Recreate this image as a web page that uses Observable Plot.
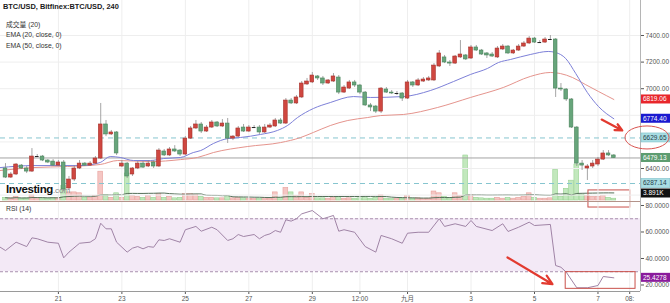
<!DOCTYPE html>
<html><head><meta charset="utf-8">
<script src="https://cdn.jsdelivr.net/npm/d3@7"></script>
<script src="https://cdn.jsdelivr.net/npm/@observablehq/plot@0.6"></script>
<style>
html,body{margin:0;padding:0;background:#fff;}
#wrap{position:relative;width:670px;height:303px;overflow:hidden;background:#fff;}
#wrap svg{position:absolute;left:0;}
</style></head><body><div id="wrap"></div>
<script>
// ---------------- DATA ----------------
const firstCandle = Date.UTC(2018, 7, 19, 8); // first 4h candle shown
const candleHours = 4;

const opens = [6400,6332,6355,6422,6400,6377,6490,6490,6460,6452,
6422,6445,6250,6317,6400,6437,6422,6437,6475,6731,
6656,6671,6415,6437,6355,6400,6437,6415,6445,6415,
6528,6498,6543,6535,6505,6625,6701,6731,6678,6708,
6746,6716,6738,6625,6640,6708,6678,6708,6708,6671,
6708,6716,6761,6738,6911,6889,6934,7032,7047,7092,
7077,7039,7054,7084,6971,7001,7047,7024,6971,6874,
6866,6828,6994,6971,6964,6964,6926,7047,7024,7054,
7062,7062,7167,7235,7197,7189,7235,7250,7227,7310,
7287,7265,7257,7235,7295,7317,7265,7287,7317,7340,
7377,7347,7347,7370,7370,7001,6994,6919,6708,6437,
6400,6415,6430,6467,6513,6498];
const highs = [6437,6370,6437,6430,6415,6550,6505,6498,6467,6467,
6460,6460,6340,6422,6460,6445,6452,6490,6889,6761,
6686,6678,6460,6445,6407,6452,6452,6460,6460,6550,
6543,6558,6572,6543,6640,6716,6761,6746,6723,6761,
6753,6768,6776,6648,6716,6731,6723,6723,6723,6731,
6738,6776,6776,6926,6926,6949,7054,7077,7122,7099,
7092,7069,7114,7099,7024,7062,7062,7032,6979,6889,
6874,7009,7009,6986,6979,6971,7062,7054,7077,7084,
7092,7189,7287,7250,7212,7250,7362,7257,7325,7325,
7295,7272,7272,7317,7332,7325,7295,7332,7355,7392,
7385,7362,7385,7400,7377,7039,7001,6926,6716,6460,
6430,6460,6483,6535,6535,6505];
const lows = [6325,6325,6347,6392,6362,6370,6483,6452,6437,6415,
6415,6227,6235,6302,6392,6415,6415,6430,6467,6640,
6648,6498,6407,6325,6340,6392,6400,6407,6400,6407,
6490,6490,6520,6490,6498,6618,6693,6663,6671,6701,
6708,6708,6588,6610,6633,6671,6671,6701,6656,6663,
6701,6708,6731,6731,6881,6881,6926,7024,7039,7062,
7024,7032,7047,6956,6964,6994,7009,6956,6866,6828,
6813,6813,6964,6956,6949,6904,6919,7009,7016,7047,
7054,7054,7159,7189,7167,7182,7227,7212,7220,7280,
7250,7227,7235,7227,7287,7257,7257,7280,7310,7332,
7340,7340,7340,7362,6934,6979,6904,6701,6415,6385,
6310,6400,6415,6460,6490,6475];
const closes = [6332,6355,6430,6400,6377,6490,6490,6460,6445,6422,
6445,6242,6317,6400,6437,6422,6437,6475,6731,6656,
6671,6513,6437,6340,6400,6437,6407,6437,6415,6535,
6498,6543,6528,6505,6625,6701,6731,6678,6708,6746,
6716,6738,6625,6640,6701,6678,6708,6708,6671,6708,
6723,6761,6738,6911,6889,6934,7039,7054,7099,7077,
7039,7062,7092,6971,7009,7047,7024,6971,6874,6859,
6828,7001,6971,6964,6964,6926,7047,7024,7062,7069,
7077,7174,7265,7197,7189,7242,7257,7220,7310,7287,
7257,7250,7242,7302,7317,7265,7287,7317,7340,7377,
7347,7347,7370,7370,7001,6994,6919,6708,6437,6422,
6415,6437,6467,6513,6498,6479];
const volumesK = [1.5,1.2,2.0,1.0,1.2,2.8,1.5,1.3,1.0,1.5,
1.2,8,4.5,4.5,4.0,1.5,1.5,2.5,16,3,
1.5,4,1.5,15,2.5,2.0,1.5,2.5,1.5,3.5,
1.5,2.0,1.2,1.5,3.5,3.5,3.0,2.0,1.5,1.5,
1.2,1.2,2.5,1.2,1.5,1.2,1.0,0.8,1.0,1.2,
1.0,4.5,1.5,7,4.5,2.5,4.5,1.5,3.5,1.2,
1.2,1.0,2.0,2.0,1.0,1.2,1.0,1.2,2.0,1.0,
1.5,2.8,1.0,0.8,0.8,1.0,2.4,1.0,1.2,0.8,
1.0,5,4,2,1.2,4,2.5,25,3,1.5,
1.2,1,1,1.5,1,1.5,1,1.5,2,4,
1.5,1,1,1.2,17,2,6.5,11,20,3,
2.5,2,2,2.5,1.5,1];

// EMA lines (candle index, price)
const ema20Idx = [-1,5.3,10.4,14.2,17.9,19.8,21.7,24.2,27.4,29.9,33.1,35.5,36.9,39.3,42,44.4,48.2,51.4,53.3,55.2,58.2,61.4,65.8,69,75.2,80.3,84.7,87.9,91.1,93.2,95.5,99.2,102.6,104,105.9,107.8,110,112.1,115];
const ema20Vals = [6407,6422,6422,6422,6445,6490,6483,6460,6460,6475,6483,6520,6535,6588,6625,6633,6656,6686,6723,6783,6851,6896,6941,6934,6941,6986,7054,7107,7152,7197,7220,7257,7280,7272,7227,7114,6971,6866,6774];
const ema50Idx = [-1,5.3,11.7,17.9,21.2,27.4,33.1,36.3,39.3,45.7,52,55.8,58.2,61.4,64.7,68.4,70.9,75.2,81.7,87.9,94.1,99.2,103,104.9,107.2,109.6,112.1,115];
const ema50Vals = [6385,6407,6415,6430,6460,6452,6467,6483,6520,6565,6595,6633,6671,6723,6761,6783,6798,6806,6859,6934,7009,7092,7122,7114,7084,7032,6979,6919];

// RSI (14) (candle index, value)
const rsiIdx = [-1,0,2,4,5,6,8,10,11,12,14,16,17,18,19,20,21,23,24,25,26,27,28,29,30,31,33,34,36,37,39,40,42,43,44,45,47,48,49,50,51,52,53,54,55,56,58,60,61,62,63,64,66,68,70,71,73,75,76,78,80,82,83,85,87,88,89,92,94,95,97,99,100,103,104,105,106,108,110,112,113,115];
const rsiVals = [48.5,46,52.3,49,55.6,54.9,52.3,51.5,40.5,44.8,51.5,52.3,54.9,66.6,62.4,62.4,52.3,44.8,47.8,49,47.3,49,48.5,54.1,53.6,54.9,52.3,61.7,64.2,60.6,63.6,61.7,53.6,54.9,58.1,56.6,58.1,54.9,57.4,58.6,61.1,59.8,69.2,68.2,70,73.7,76.2,70,71.2,72.5,60.6,61.7,59.8,49,44.8,57.4,54.9,51.5,59.1,59.8,59.8,70,64.2,66.2,64.2,68.7,64.2,61.1,66.2,60.4,63.6,67.4,64.9,65.7,34.7,33.4,29.7,17.9,17.9,19.6,26.4,25.4];

// axes / levels
const tickDates = ["2018-08-21T00:00Z","2018-08-23T00:00Z","2018-08-25T00:00Z","2018-08-27T00:00Z","2018-08-29T00:00Z","2018-08-30T12:00Z","2018-09-01T00:00Z","2018-09-03T00:00Z","2018-09-05T00:00Z","2018-09-07T00:00Z","2018-09-08T00:00Z"];
const tickLabels = ["21","23","25","27","29","12:00","九月","3","5","7","08:"];
const priceTicks = [6200,6400,6600,6800,7000,7200,7400];
const rsiTicks = [20,40,60,80];
const rsiLevels = [30,70];
const dashedLevels = [6629.65,6287.14];
const lastPrice = 6479.13;
const volMaLastK = 3.891;
const boxTexts = ["6819.06","6774.40","6629.65","6479.13","6287.14","3.891K","25.4278"];

// hand annotations (data coordinates: candle index, value)
const priceArrows = [{i1:112.7,p1:6768,i2:116.6,p2:6686}];
const rsiArrows = [{i1:94.9,v1:40.8,i2:103.4,v2:20.6}];
const volBoxes = [{i1:110.2,i2:118.1,v1:-3.9,v2:5.6}];
const rsiBoxes = [{i1:105.9,i2:119.1,v1:17.1,v2:29.7}];

// ---------------- CHART ----------------
const FONT = '"Liberation Sans", Arial, "Noto Sans CJK SC", sans-serif';
const HOUR = 3600e3;
const tOf = i => new Date(firstCandle + i * candleHours * HOUR);
const xDomain = [tOf(-0.945), tOf(120.04)];
const priceDomain = [6151.9, 7663.2];
const volDomain = [0, 111.1];
const rsiDomain = [15.09, 83.02];
const PRICE_H = 201, VOL_BASE = 200;

const candles = opens.map((o, i) => ({t: tOf(i), o, h: highs[i], l: lows[i], c: closes[i], v: volumesK[i]}));
const upC = candles.filter(d => d.c > d.o);
const downC = candles.filter(d => d.c < d.o);
const dojiC = candles.filter(d => d.c === d.o);
const volUp = candles.filter(d => d.c >= d.o);
const volDown = candles.filter(d => d.c < d.o);
const bx1 = d => new Date(+d.t - 1.4 * HOUR), bx2 = d => new Date(+d.t + 1.4 * HOUR);
const vx1 = d => new Date(+d.t - 1.8 * HOUR), vx2 = d => new Date(+d.t + 1.8 * HOUR);
const ema20 = ema20Idx.map((i, k) => ({t: tOf(i), p: ema20Vals[k]}));
const ema50 = ema50Idx.map((i, k) => ({t: tOf(i), p: ema50Vals[k]}));
const rsi = rsiIdx.map((i, k) => ({t: tOf(i), v: rsiVals[k]}));
const ticks = tickDates.map(s => new Date(s));
const tickLabel = d => tickLabels[ticks.findIndex(t => +t === +d)];

// vertical positions of the value boxes, to keep covered tick labels away
const pyPre = d3.scaleLinear(priceDomain, [PRICE_H, 0]);
const vyPre = d3.scaleLinear(volDomain, [VOL_BASE, 0]);
const boxYs = [pyPre(ema50Vals[ema50Vals.length - 1]), pyPre(ema20Vals[ema20Vals.length - 1]),
  pyPre(dashedLevels[0]), pyPre(lastPrice), pyPre(dashedLevels[1]), vyPre(volMaLastK)];
const labeledPriceTicks = priceTicks.filter(p => boxYs.every(y => Math.abs(pyPre(p) - y) > 8));

const baseStyle = {background: "transparent", fontFamily: FONT, fontSize: "6.5px", color: "#555", overflow: "visible"};

const vol = Plot.plot({
  width: 670, height: PRICE_H, marginLeft: 0, marginRight: 30, marginTop: 0, marginBottom: PRICE_H - VOL_BASE,
  style: baseStyle,
  x: {type: "utc", domain: xDomain, axis: null},
  y: {domain: volDomain, axis: null},
  marks: [
    Plot.rect(volUp, {x1: vx1, x2: vx2, y1: d => 0, y2: "v", fill: "#f5c6c3", stroke: "#e7a19c", strokeWidth: 0.6}),
    Plot.rect(volDown, {x1: vx1, x2: vx2, y1: d => 0, y2: "v", fill: "#c2e8bd", stroke: "#98d292", strokeWidth: 0.6}),
    Plot.line(candles, Plot.windowY({k: 20, anchor: "end", reduce: "mean"}, {x: "t", y: "v", stroke: "#55705a", strokeWidth: 1})),
    Plot.rect(volBoxes, {x1: d => tOf(d.i1), x2: d => tOf(d.i2), y1: "v1", y2: "v2", fill: "none", stroke: "#c9504a", strokeWidth: 1})
  ]
});

const price = Plot.plot({
  width: 670, height: PRICE_H, marginLeft: 0, marginRight: 30, marginTop: 0, marginBottom: 0,
  style: baseStyle,
  x: {type: "utc", domain: xDomain, axis: null},
  y: {domain: priceDomain, axis: "right", ticks: labeledPriceTicks, tickFormat: d => d.toFixed(2), tickSize: 3, tickPadding: 2, label: null},
  marks: [
    Plot.ruleY(priceTicks, {stroke: "#eeeeee"}),
    Plot.ruleX(ticks, {stroke: "#eeeeee"}),
    Plot.ruleY(dashedLevels, {stroke: "#86c5cf", strokeDasharray: "5,4", strokeWidth: 1}),
    Plot.ruleY([lastPrice], {stroke: "#a3a3a3"}),
    Plot.line(ema50, {x: "t", y: "p", stroke: "#e5948d", strokeWidth: 1, curve: "monotone-x", clip: true}),
    Plot.line(ema20, {x: "t", y: "p", stroke: "#7d80d8", strokeWidth: 1, curve: "monotone-x", clip: true}),
    Plot.ruleX(candles, {x: "t", y1: "l", y2: "h", stroke: "#8e8e8e", strokeWidth: 0.8}),
    Plot.rect(upC, {x1: bx1, x2: bx2, y1: "o", y2: "c", fill: "#cf4740", stroke: "#a6302a", strokeWidth: 0.6}),
    Plot.rect(downC, {x1: bx1, x2: bx2, y1: "o", y2: "c", fill: "#67a57b", stroke: "#4a845c", strokeWidth: 0.6}),
    Plot.ruleY(dojiC, {x1: bx1, x2: bx2, y: "c", stroke: "#222", strokeWidth: 1}),
    Plot.ruleX([xDomain[1]], {stroke: "#b5b5b5"}),
    Plot.arrow(priceArrows, {x1: d => tOf(d.i1), y1: "p1", x2: d => tOf(d.i2), y2: "p2", stroke: "#e23a2f", strokeWidth: 2.2, headLength: 7, headAngle: 50})
  ]
});

const rsiPlot = Plot.plot({
  width: 670, height: 102, marginLeft: 0, marginRight: 30, marginTop: 0, marginBottom: 12,
  style: baseStyle,
  x: {type: "utc", domain: xDomain, ticks: ticks, tickFormat: tickLabel, tickSize: 3, tickPadding: 2, label: null},
  y: {domain: rsiDomain, axis: "right", ticks: rsiTicks, tickFormat: d => d.toFixed(4), tickSize: 3, tickPadding: 2, label: null},
  marks: [
    Plot.ruleX(ticks, {stroke: "#eeeeee"}),
    Plot.rect([{a: xDomain[0], b: xDomain[1], lo: rsiLevels[0], hi: rsiLevels[1]}], {x1: "a", x2: "b", y1: "lo", y2: "hi", fill: "#f3e9f6"}),
    Plot.ruleY(rsiLevels, {stroke: "#a88fae", strokeDasharray: "3,2"}),
    Plot.line(rsi, {x: "t", y: "v", stroke: "#a084a6", strokeWidth: 1, clip: true}),
    Plot.ruleY([rsiDomain[0]], {stroke: "#9a9a9a"}),
    Plot.ruleY([rsiDomain[1]], {stroke: "#b4938a"}),
    Plot.ruleX([xDomain[1]], {stroke: "#b5b5b5"}),
    Plot.rect(rsiBoxes, {x1: d => tOf(d.i1), x2: d => tOf(d.i2), y1: "v1", y2: "v2", fill: "none", stroke: "#c9504a", strokeWidth: 1}),
    Plot.arrow(rsiArrows, {x1: d => tOf(d.i1), y1: "v1", x2: d => tOf(d.i2), y2: "v2", stroke: "#e23a2f", strokeWidth: 2.2, headLength: 7, headAngle: 50})
  ]
});

const wrap = document.getElementById("wrap");
vol.style.top = "0px"; price.style.top = "0px"; rsiPlot.style.top = PRICE_H + "px";
wrap.appendChild(vol); wrap.appendChild(price); wrap.appendChild(rsiPlot);

// overlay: texts and value boxes on the right axis
const py = price.scale("y"), vy = vol.scale("y"), ry = rsiPlot.scale("y");
const ov = d3.create("svg").attr("width", 670).attr("height", 303)
  .style("position", "absolute").style("left", "0px").style("top", "0px")
  .style("font-family", FONT).style("overflow", "visible");

ov.append("text").attr("x", 3).attr("y", 9).attr("font-size", 7.4).attr("font-weight", "bold").attr("fill", "#1a1a1a").text("BTC/USD, Bitfinex:BTC/USD, 240");
const legend = [["成交量 (20)", 26.5], ["EMA (20, close, 0)", 37.2], ["EMA (50, close, 0)", 48.2], ["RSI (14)", 210.8]];
legend.forEach(([t, y]) => ov.append("text").attr("x", 6).attr("y", y).attr("font-size", 6.8).attr("fill", "#333").text(t));

const logo = ov.append("text").attr("x", 6).attr("y", 193).attr("font-size", 11.5).attr("font-weight", "bold").attr("letter-spacing", "-0.4").attr("fill", "#111");
logo.append("tspan").text("Investing");
logo.append("tspan").attr("font-size", 8).attr("font-weight", "normal").attr("fill", "#8a8a8a").attr("letter-spacing", "0").text(".com");

const boxes = [
  {y: py.apply(ema50Vals[ema50Vals.length - 1]), text: boxTexts[0], bg: "#e8262b", fg: "#fff"},
  {y: py.apply(ema20Vals[ema20Vals.length - 1]), text: boxTexts[1], bg: "#1a1ad0", fg: "#fff"},
  {y: py.apply(dashedLevels[0]), text: boxTexts[2], bg: "#a9dde3", fg: "#25414a", stroke: "#7cc0c9"},
  {y: py.apply(lastPrice), text: boxTexts[3], bg: "#5d9c70", fg: "#fff"},
  {y: py.apply(dashedLevels[1]), text: boxTexts[4], bg: "#a9dde3", fg: "#25414a", stroke: "#7cc0c9"},
  {y: vy.apply(volMaLastK), text: boxTexts[5], bg: "#111", fg: "#fff"},
  {y: PRICE_H + ry.apply(rsiVals[rsiVals.length - 1]), text: boxTexts[6], bg: "#8a1b9c", fg: "#fff"}
];
boxes.forEach(b => {
  ov.append("rect").attr("x", 641).attr("y", b.y - 4.5).attr("width", 29).attr("height", 9)
    .attr("fill", b.bg).attr("stroke", b.stroke || "none").attr("stroke-width", 0.6);
  ov.append("text").attr("x", 643).attr("y", b.y + 2.3).attr("font-size", 6.5).attr("fill", b.fg).text(b.text);
});
// hand-drawn ellipse around the 6629.65 level box
ov.append("ellipse").attr("cx", 647).attr("cy", py.apply(dashedLevels[0])).attr("rx", 22).attr("ry", 11.5)
  .attr("fill", "none").attr("stroke", "#d9534f").attr("stroke-width", 1);

wrap.appendChild(ov.node());
</script></body></html>
